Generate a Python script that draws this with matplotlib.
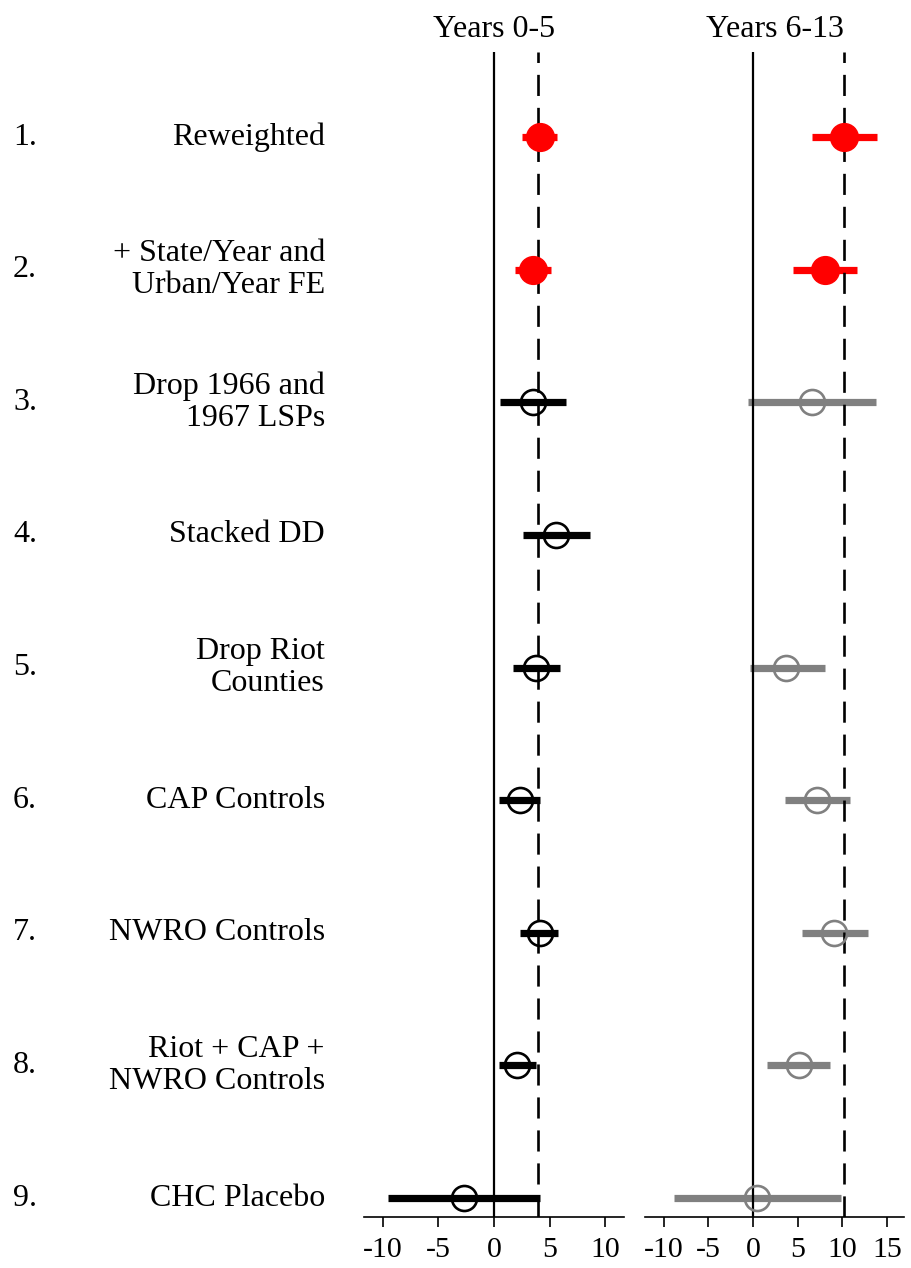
import numpy as np
import matplotlib
matplotlib.use("Agg")
import matplotlib.pyplot as plt
from matplotlib.transforms import blended_transform_factory

# 各規格的估計值與 95% 信賴區間（左：0-5 年，右：6-13 年）
ROW_NUM = ["1.", "2.", "3.", "4.", "5.", "6.", "7.", "8.", "9."]
ROW_LABELS = [
    "Reweighted",
    "+ State/Year and\nUrban/Year FE",
    "Drop 1966 and\n1967 LSPs",
    "Stacked DD",
    "Drop Riot\nCounties",
    "CAP Controls",
    "NWRO Controls",
    "Riot + CAP +\nNWRO Controls",
    "CHC Placebo",
]
EARLY_EST = [4.1, 3.5, 3.5, 5.6, 3.8, 2.3, 4.1, 2.1, -2.7]
EARLY_LO = [2.5, 1.9, 0.5, 2.6, 1.7, 0.45, 2.35, 0.45, -9.5]
EARLY_HI = [5.7, 5.15, 6.45, 8.6, 5.9, 4.15, 5.8, 3.8, 4.15]
LATE_EST = [10.2, 8.0, 6.6, np.nan, 3.7, 7.2, 9.1, 5.1, 0.4]
LATE_LO = [6.6, 4.45, -0.6, np.nan, -0.35, 3.6, 5.5, 1.6, -8.8]
LATE_HI = [13.9, 11.6, 13.8, np.nan, 8.0, 10.8, 12.9, 8.6, 9.8]
EARLY_REF = 4.0     # 主規格估計（虛線）
LATE_REF = 10.2
EARLY_TICKS = [-10, -5, 0, 5, 10]
LATE_TICKS = [-10, -5, 0, 5, 10, 15]

RED, GRAY, BLACK = "#FF0000", "#808080", "#000000"
W, H = 911, 1268

plt.rcParams["font.family"] = ["Liberation Serif", "DejaVu Serif"]

fig = plt.figure(figsize=(W / 100, H / 100), dpi=100)


def px_axes(x0, x1, ytop, ybot):
    return fig.add_axes([x0 / W, 1 - ybot / H, (x1 - x0) / W, (ybot - ytop) / H])


rows = np.arange(1, len(ROW_LABELS) + 1)
YLIM = (9.143, 0.359)


def panel(ax, est, lo, hi, ref, ticks, xlim, title, base_color):
    ax.set_xlim(*xlim)
    ax.set_ylim(*YLIM)
    for s in ("top", "right", "left"):
        ax.spines[s].set_visible(False)
    ax.spines["bottom"].set_linewidth(1.2)
    ax.set_yticks([])
    ax.set_xticks(ticks)
    ax.set_xticklabels([str(t) for t in ticks])
    ax.tick_params(axis="x", direction="out", length=7.5, width=1.2,
                   labelsize=21.5, pad=7)
    ax.set_title(title, fontsize=23, pad=11)
    ax.axvline(0, color=BLACK, lw=1.6, zorder=2)
    ax.axvline(ref, color=BLACK, lw=1.9, ls=(0, (8, 4.5)), zorder=2)
    for i, y in enumerate(rows):
        if np.isnan(est[i]):
            continue
        c = RED if i < 2 else base_color
        ax.plot([lo[i], hi[i]], [y, y], color=c, lw=5.2, solid_capstyle="butt",
                zorder=1)
        if i < 2:
            ax.plot(est[i], y, "o", ms=20, color=c, mec=c, zorder=3)
        else:
            ax.plot(est[i], y, "o", ms=18, mfc="none", mec=c, mew=1.9, zorder=3)


ax1 = px_axes(364, 624, 52, 1217)
ax2 = px_axes(645, 904, 52, 1217)
panel(ax1, EARLY_EST, EARLY_LO, EARLY_HI, EARLY_REF, EARLY_TICKS,
      (-11.7, 11.7), "Years 0-5", BLACK)
panel(ax2, LATE_EST, LATE_LO, LATE_HI, LATE_REF, LATE_TICKS,
      (-12.1, 16.9), "Years 6-13", GRAY)

# 左側規格編號與名稱
trans = blended_transform_factory(fig.transFigure, ax1.transData)
for i, y in enumerate(rows):
    fig.text(13 / W, y, ROW_NUM[i], transform=trans, ha="left", va="center",
             fontsize=23)
    fig.text(325 / W, y, ROW_LABELS[i], transform=trans, ha="right",
             va="center", fontsize=23, linespacing=1.12)

fig.savefig("out.png", dpi=100, facecolor="white")
